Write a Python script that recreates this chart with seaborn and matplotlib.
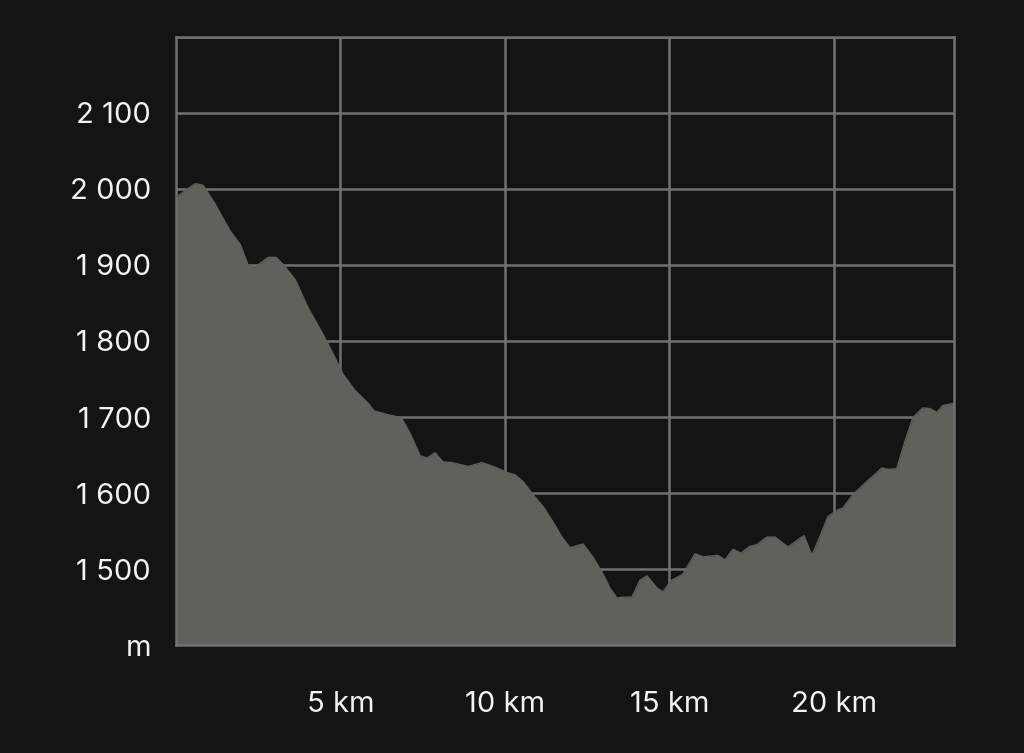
import pandas as pd
import matplotlib
matplotlib.use('Agg')
import matplotlib.pyplot as plt
import seaborn as sns

# Elevation profile (distance in km, elevation in m)
distance_km = [0.00, 0.58, 0.82, 1.19, 1.64, 1.95, 2.19, 2.40, 2.80, 3.04, 3.25, 3.62,
               4.01, 4.44, 4.74, 5.08, 5.44, 5.84, 6.02, 6.35, 6.85, 7.11, 7.42, 7.63,
               7.87, 8.12, 8.39, 8.88, 9.30, 9.76, 10.06, 10.30, 10.55, 10.85, 11.16,
               11.46, 11.73, 11.98, 12.37, 12.67, 12.95, 13.19, 13.40, 13.59, 13.86,
               14.10, 14.32, 14.62, 14.80, 15.06, 15.40, 15.78, 16.02, 16.47, 16.69,
               16.93, 17.17, 17.45, 17.66, 17.96, 18.21, 18.60, 19.09, 19.33, 19.57,
               19.82, 20.12, 20.27, 20.58, 21.00, 21.46, 21.64, 21.91, 22.16, 22.40,
               22.70, 22.92, 23.13, 23.31, 23.65]
elevation_m = [1989, 2007, 2005, 1980, 1945, 1927, 1900, 1897, 1910, 1910, 1901, 1881,
               1844, 1811, 1786, 1756, 1735, 1718, 1708, 1704, 1699, 1679, 1649, 1646,
               1653, 1641, 1640, 1635, 1640, 1633, 1627, 1624, 1615, 1598, 1582,
               1562, 1542, 1528, 1533, 1516, 1496, 1475, 1462, 1463, 1463,
               1485, 1491, 1475, 1470, 1485, 1493, 1520, 1516, 1518, 1512,
               1526, 1521, 1530, 1532, 1542, 1542, 1529, 1544, 1518, 1542,
               1569, 1578, 1580, 1598, 1615, 1633, 1631, 1632, 1668, 1699,
               1712, 1711, 1706, 1715, 1718]

x_ticks = [5, 10, 15, 20]
x_labels = ['5 km', '10 km', '15 km', '20 km']
y_ticks = [1400, 1500, 1600, 1700, 1800, 1900, 2000, 2100]
y_labels = ['m', '1 500', '1 600', '1 700', '1 800', '1 900', '2 000', '2 100']

df = pd.DataFrame({'distance': distance_km, 'elevation': elevation_m})

bg = '#141413'
fill = '#5f615b'
grid = '#717171'
text = '#f2f2f2'

sns.set_style('dark')
plt.rcParams['font.family'] = ['Inter', 'DejaVu Sans']

fig = plt.figure(figsize=(10.24, 7.53), dpi=100, facecolor=bg)
ax = fig.add_axes([0.1719, 0.1434, 0.7597, 0.8075])
ax.set_facecolor(bg)

ax.fill_between(df['distance'], df['elevation'], 1400, color=fill, linewidth=0, zorder=2)
sns.lineplot(data=df, x='distance', y='elevation', color=fill, linewidth=1, ax=ax, zorder=3)

ax.set_xlim(0, 23.65)
ax.set_ylim(1400, 2200)
ax.set_xticks(x_ticks)
ax.set_xticklabels(x_labels)
ax.set_yticks(y_ticks + [2200])
ax.set_yticklabels(y_labels + [''])

ax.grid(True, color=grid, linewidth=1.8, zorder=1)
ax.set_axisbelow(True)
for s in ax.spines.values():
    s.set_visible(True)
    s.set_color(grid)
    s.set_linewidth(1.8)

ax.tick_params(axis='both', length=0, colors=text, labelsize=21)
ax.tick_params(axis='x', pad=33)
ax.tick_params(axis='y', pad=18)
ax.set_xlabel('')
ax.set_ylabel('')

fig.savefig('out.png', dpi=100, facecolor=bg)
